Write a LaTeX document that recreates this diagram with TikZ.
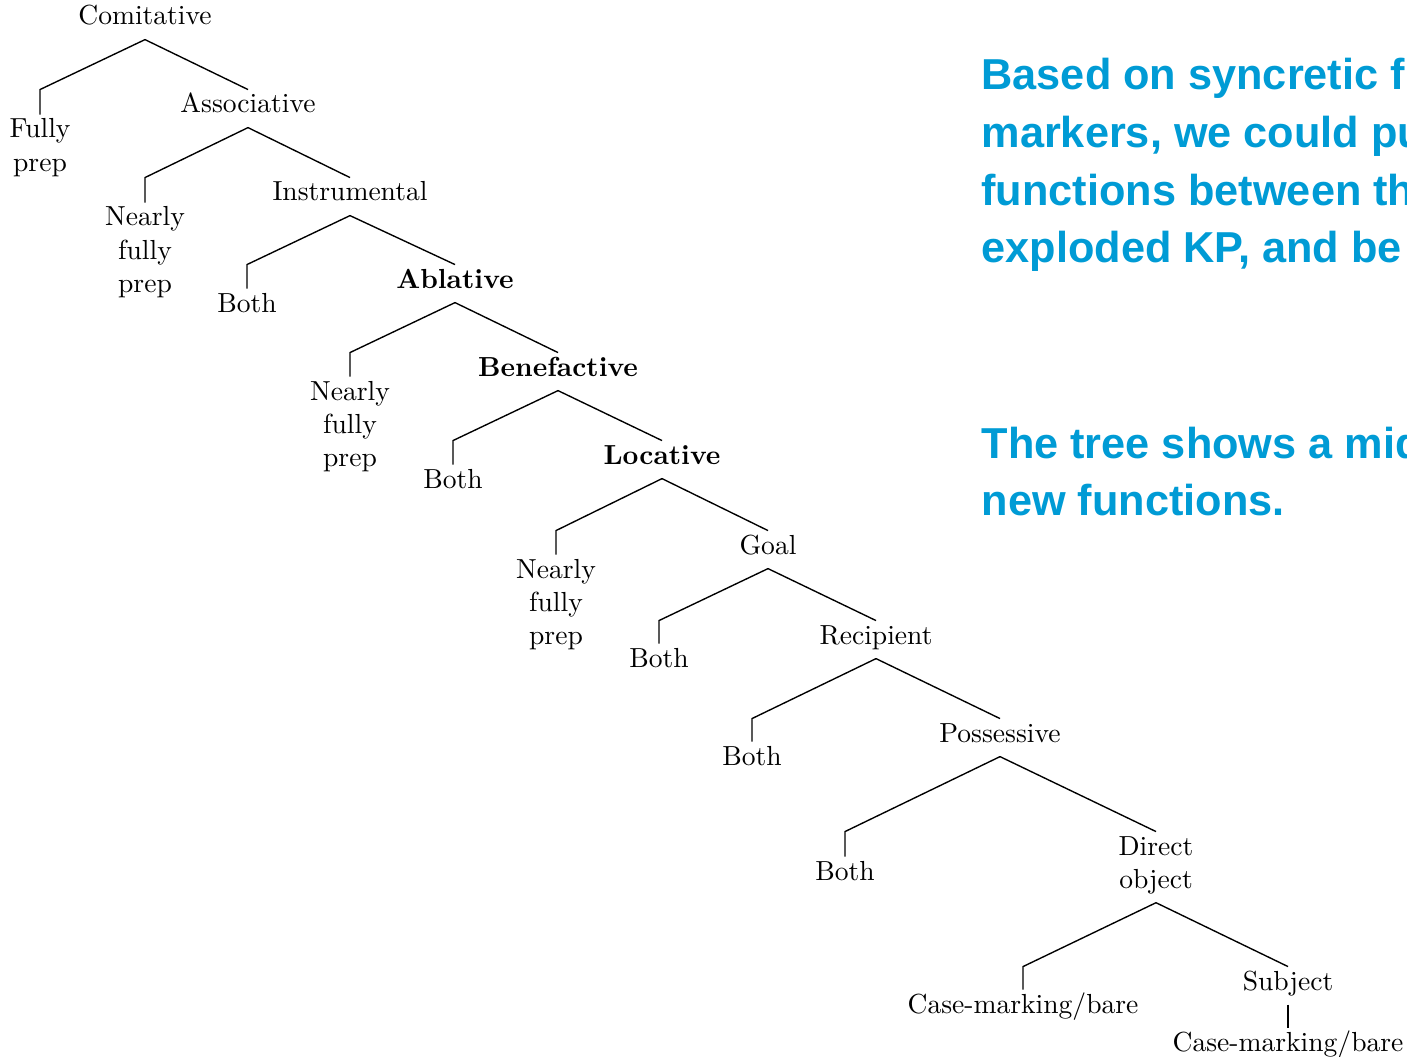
\documentclass[tikz,border=0pt]{standalone}
\usepackage{fontspec}
\usepackage{xcolor}
\usepackage{tikz}
\usetikzlibrary{
  positioning,
  calc
}
\newfontfamily\slidefont{Liberation Sans}
\definecolor{slideblue}{RGB}{0,155,213}

\begin{document}
\begin{tikzpicture}[x=0.3627pt,y=-0.3627pt,
  lbl/.style={inner sep=0pt,text height=8.3pt,text depth=5.1pt,anchor=base},
  branch/.style={line width=0.5pt}]
  % 枠と切り取り
  \useasboundingbox (0,0) rectangle (1407,1056);
  \clip (0,0) rectangle (1407,1056);

  % 木の節点
  \node[lbl] (com)   at (145,25)  {Comitative};
  \node[lbl] (fully) at (40,138)  {\begin{tabular}[t]{@{}c@{}}Fully\\prep\end{tabular}};
  \node[lbl] (asso)  at (248,113) {Associative};
  \node[lbl] (nfp1)  at (145,226) {\begin{tabular}[t]{@{}c@{}}Nearly\\fully\\prep\end{tabular}};
  \node[lbl] (instr) at (350,201) {Instrumental};
  \node[lbl] (both1) at (247,312) {Both};
  \node[lbl,font=\bfseries] (abl) at (455,288) {Ablative};
  \node[lbl] (nfp2)  at (350,400) {\begin{tabular}[t]{@{}c@{}}Nearly\\fully\\prep\end{tabular}};
  \node[lbl,font=\bfseries] (bene) at (558,376) {Benefactive};
  \node[lbl] (both2) at (453,488) {Both};
  \node[lbl,font=\bfseries] (loc) at (662,464) {Locative};
  \node[lbl] (nfp3)  at (556,578) {\begin{tabular}[t]{@{}c@{}}Nearly\\fully\\prep\end{tabular}};
  \node[lbl] (goal)  at (768,554) {Goal};
  \node[lbl] (both3) at (659,667) {Both};
  \node[lbl] (reci)  at (876,644) {Recipient};
  \node[lbl] (both4) at (752,765) {Both};
  \node[lbl] (poss)  at (1000,742) {Possessive};
  \node[lbl] (both5) at (845,880) {Both};
  \node[lbl,text depth=17.1pt] (dobj) at (1156,855)
    {\begin{tabular}[t]{@{}c@{}}Direct\\object\end{tabular}};
  \node[lbl] (case1) at (1023,1013) {Case-marking/bare};
  \node[lbl] (subj)  at (1288,990) {Subject};
  \node[lbl] (case2) at (1288,1051) {Case-marking/bare};

  % 枝：親から右の子へ，左の子へは折れ線
  \foreach \p/\l/\r in {com/fully/asso, asso/nfp1/instr, instr/both1/abl,
      abl/nfp2/bene, bene/both2/loc, loc/nfp3/goal, goal/both3/reci,
      reci/both4/poss, poss/both5/dobj, dobj/case1/subj}
  {
    \draw[branch] (\p.south) -- (\r.north);
    \draw[branch] (\p.south) -- (\l |- \r.north) -- (\l.north);
  }
  \draw[branch] (subj.south) -- (case2.north);

  % 右側の説明文
  \node[anchor=base west,inner sep=0pt,text=slideblue,
    font=\slidefont\bfseries\fontsize{15.7}{20.9}\selectfont] (note1) at (981,90)
    {\begin{tabular}[t]{@{}l@{}}Based on syncretic f\\markers, we could pu\\functions between th\\exploded KP, and be\end{tabular}};
  \node[anchor=base west,inner sep=0pt,text=slideblue,
    font=\slidefont\bfseries\fontsize{15.7}{20.9}\selectfont] (note2) at (981,458)
    {\begin{tabular}[t]{@{}l@{}}The tree shows a mid\\new functions.\end{tabular}};
\end{tikzpicture}
\end{document}
